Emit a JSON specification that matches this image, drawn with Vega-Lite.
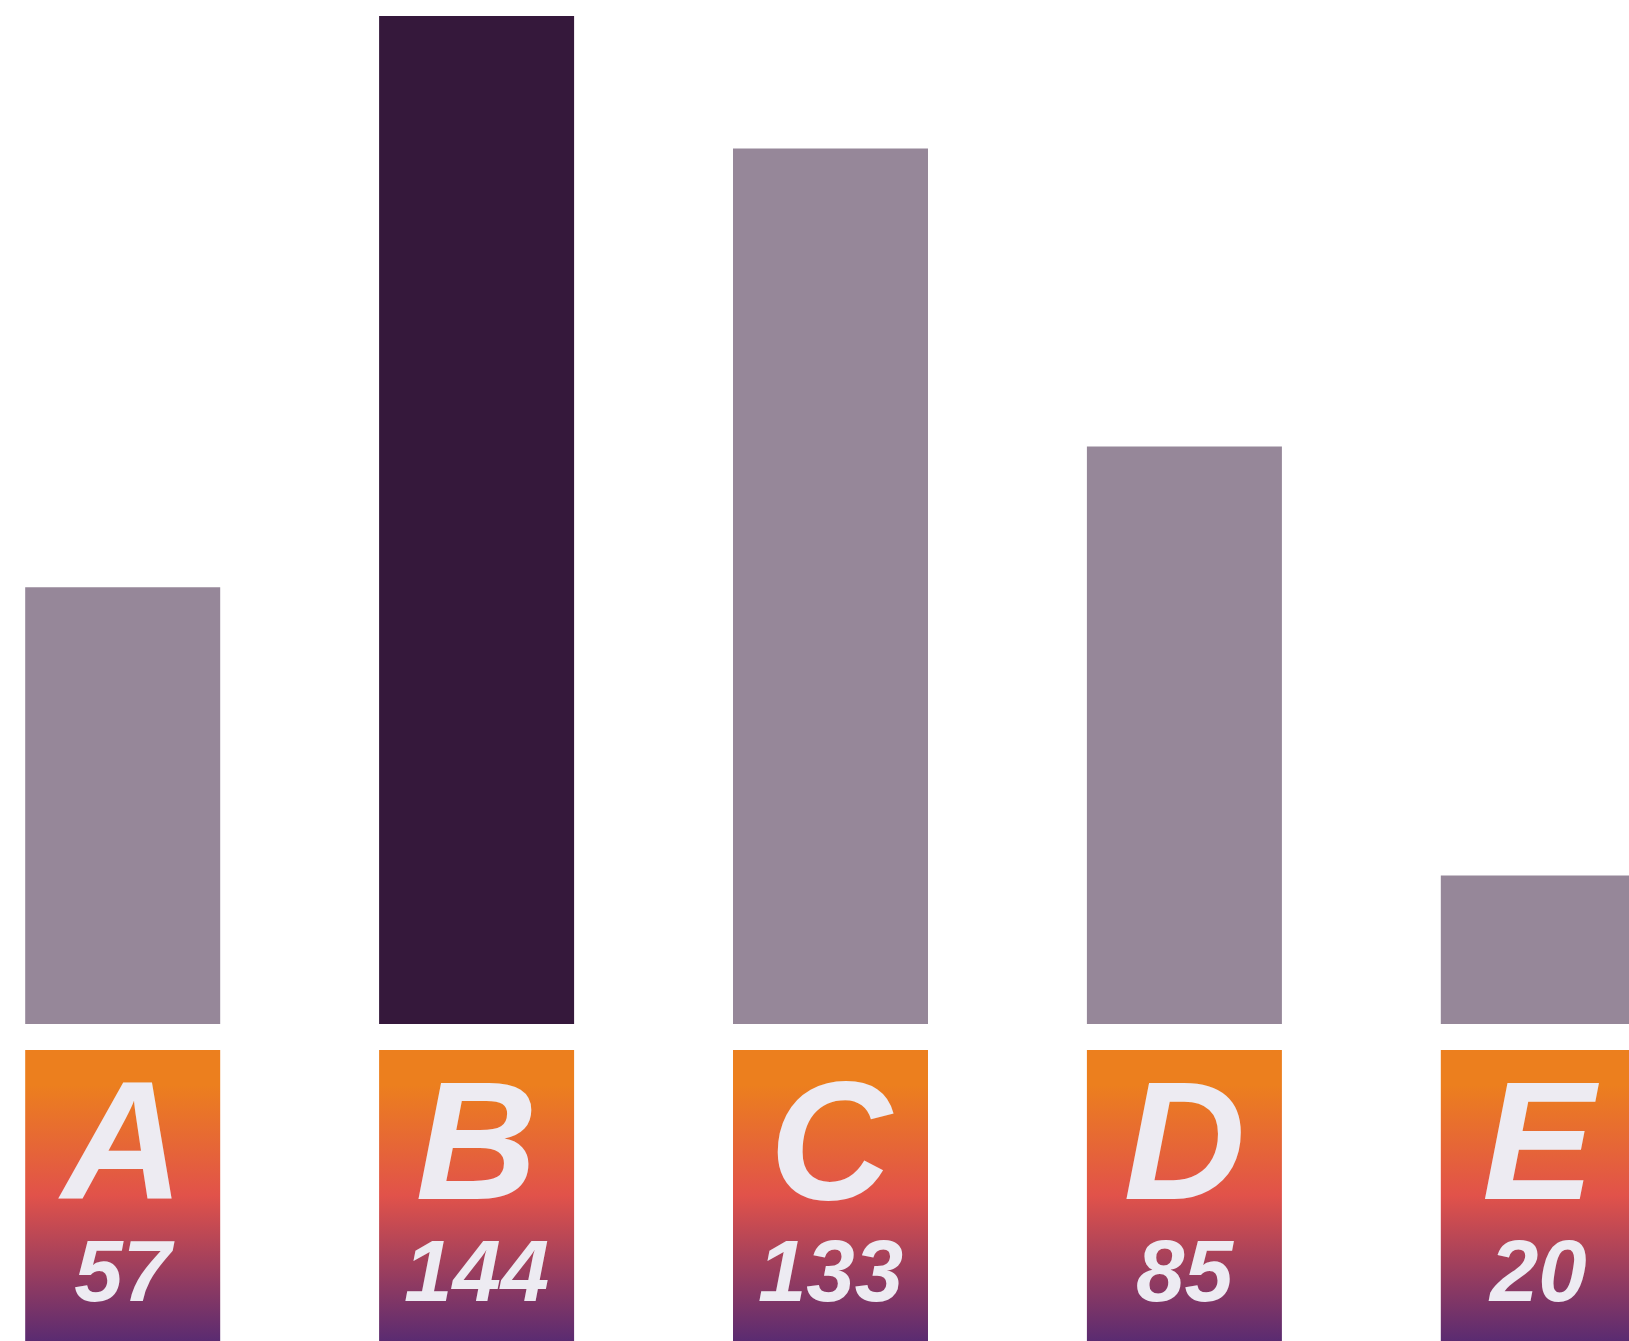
{
  "$schema": "https://vega.github.io/schema/vega-lite/v6.json",
  "padding": 0,
  "spacing": 26,
  "background": "white",
  "config": {"view": {"stroke": null}},
  "data": {"values": [
    {"cat": "A", "value": 57, "height": 62.4},
    {"cat": "B", "value": 144, "height": 144},
    {"cat": "C", "value": 133, "height": 125.1},
    {"cat": "D", "value": 85, "height": 82.5},
    {"cat": "E", "value": 20, "height": 21.2}
  ]},
  "vconcat": [
    {
      "width": 1661,
      "height": 1024,
      "mark": {"type": "bar"},
      "encoding": {
        "x": {"field": "cat", "type": "nominal", "axis": null, "scale": {"paddingInner": 0.449, "paddingOuter": 0.0712}},
        "y": {"field": "height", "type": "quantitative", "axis": null, "scale": {"domain": [0, 146.3], "nice": false}},
        "color": {"condition": {"test": "datum.cat === 'B'", "value": "#35183B"}, "value": "#968799"}
      }
    },
    {
      "width": 1661,
      "height": 291,
      "encoding": {
        "x": {"field": "cat", "type": "nominal", "axis": null, "scale": {"paddingInner": 0.449, "paddingOuter": 0.0712}}
      },
      "layer": [
        {
          "mark": {
            "type": "bar",
            "color": {
              "gradient": "linear", "x1": 0, "y1": 0, "x2": 0, "y2": 1,
              "stops": [
                {"offset": 0, "color": "#EC7F1E"},
                {"offset": 0.12, "color": "#EC7F1E"},
                {"offset": 0.5, "color": "#E1524A"},
                {"offset": 1, "color": "#5A2B71"}
              ]
            }
          }
        },
        {
          "mark": {"type": "text", "font": "Liberation Sans", "fontWeight": "bold", "fontStyle": "italic", "fontSize": 169, "baseline": "alphabetic", "align": "center", "color": "#EDEBF2"},
          "encoding": {
            "text": {"field": "cat", "type": "nominal"},
            "y": {"datum": "letter", "type": "nominal", "axis": null, "scale": {"type": "point", "domain": ["letter", "number"], "padding": 0.931, "align": 0.787}}
          }
        },
        {
          "mark": {"type": "text", "font": "Liberation Sans", "fontWeight": "bold", "fontStyle": "italic", "fontSize": 87, "baseline": "alphabetic", "align": "center", "color": "#EDEBF2"},
          "encoding": {
            "text": {"field": "value", "type": "nominal"},
            "y": {"datum": "number", "type": "nominal"}
          }
        }
      ]
    }
  ]
}
